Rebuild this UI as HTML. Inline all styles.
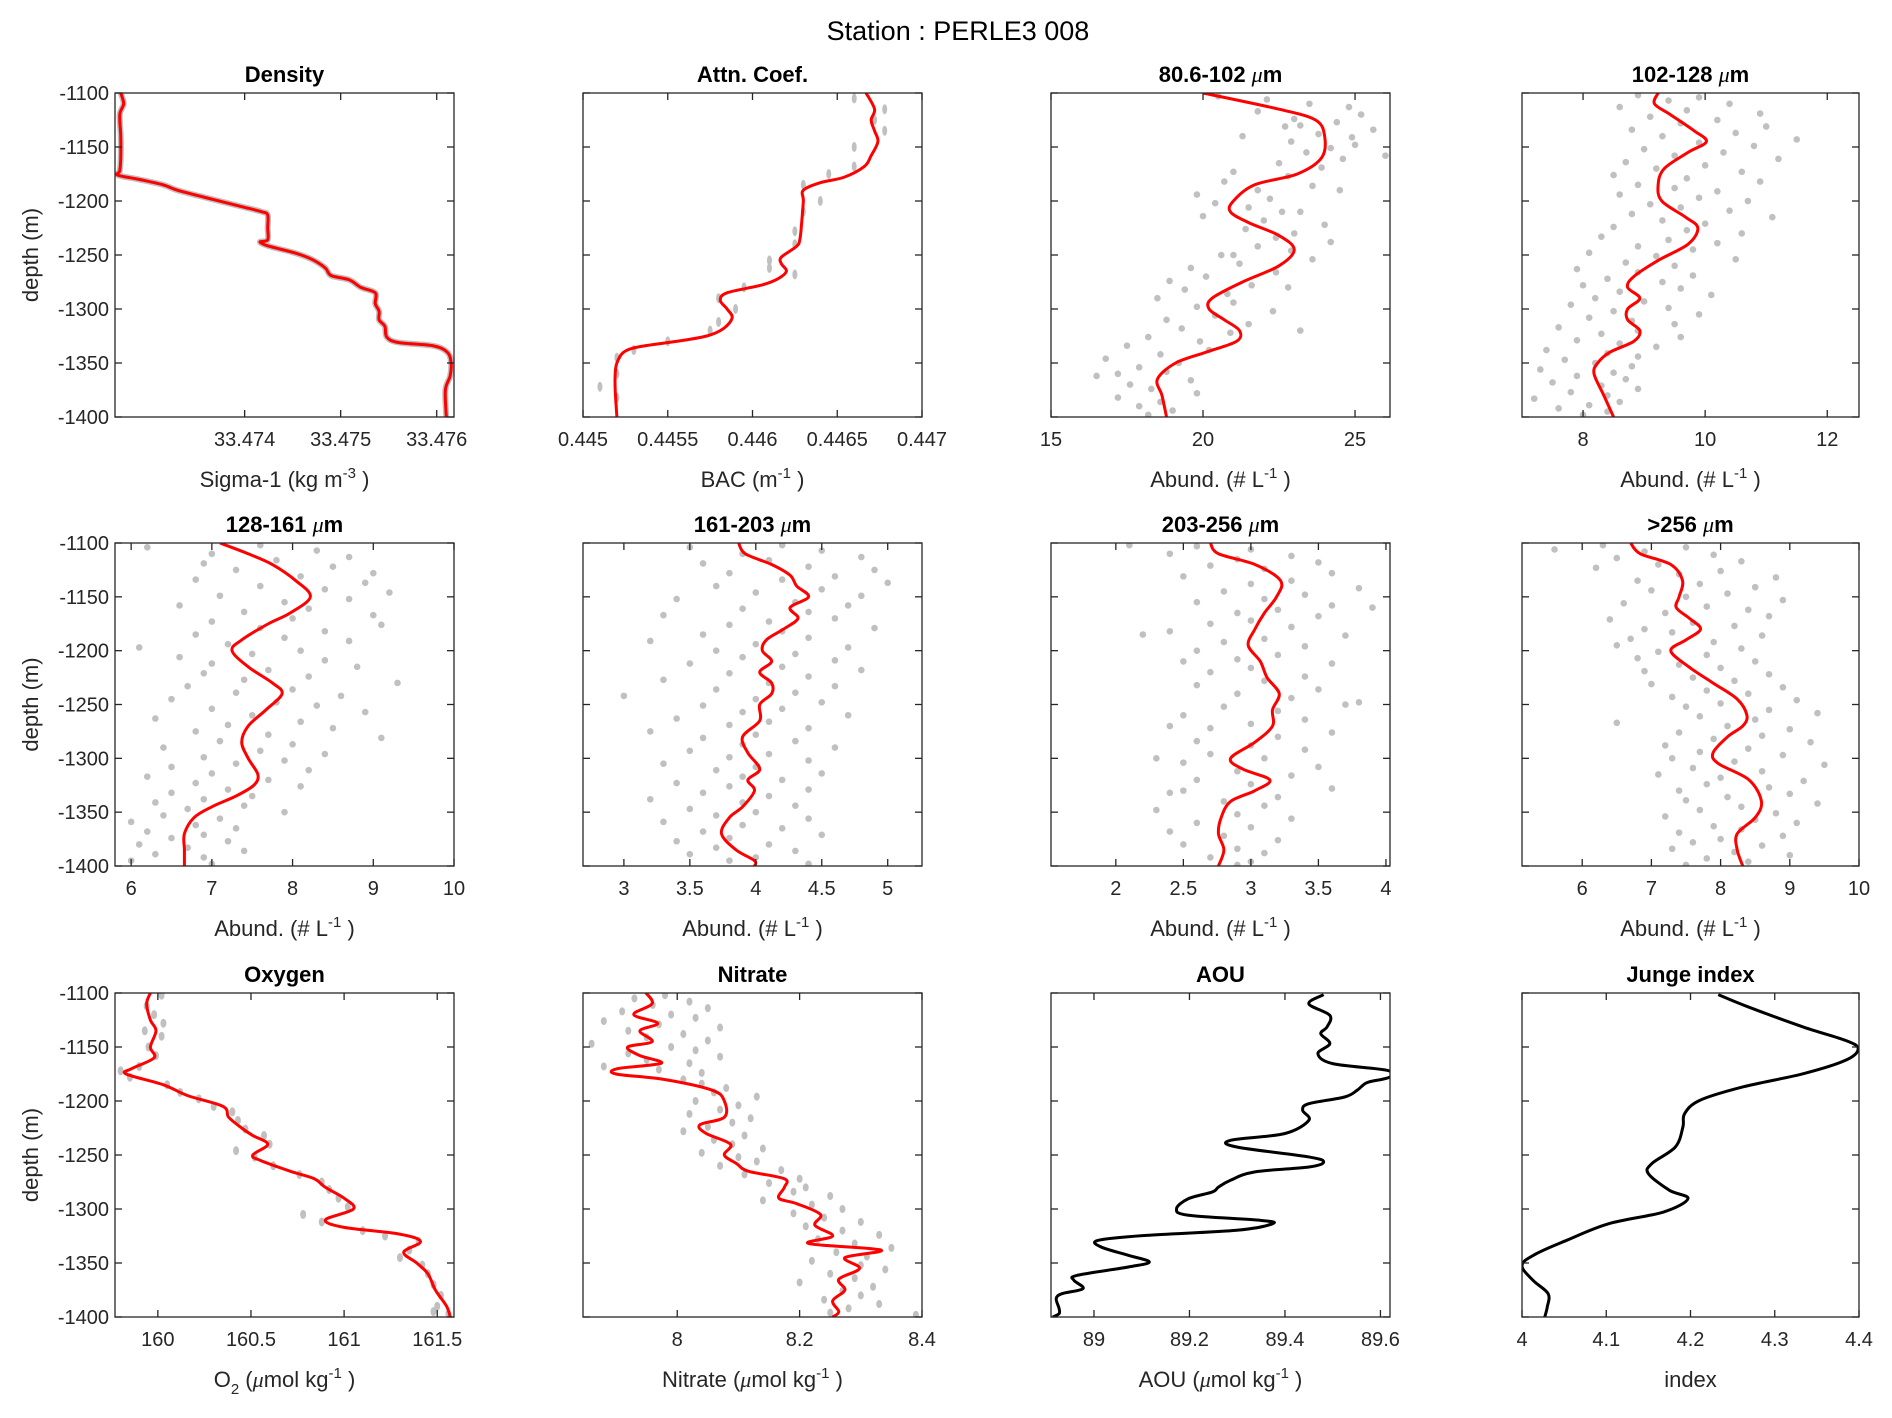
<!DOCTYPE html>
<html><head><meta charset="utf-8"><style>
html,body{margin:0;padding:0;background:#fff}
svg{display:block;font-family:"Liberation Sans",Arial,sans-serif}
</style></head><body>
<svg id="fig" width="1892" height="1418" viewBox="0 0 1892 1418" xmlns="http://www.w3.org/2000/svg">
<rect width="1892" height="1418" fill="#fff"/>
<text x="958" y="40" font-size="27" text-anchor="middle" fill="#000">Station : PERLE3 008</text>
</svg>
<script>
// ---------- DATA ----------
const depthTicks = [-1100,-1150,-1200,-1250,-1300,-1350,-1400];
const depthDomain = [-1100,-1400];

const densityLine = [[-1100,33.47271],[-1110,33.47274],[-1120,33.47270],[-1140,33.47271],[-1160,33.47271],[-1172,33.47270],[-1176,33.47268],[-1180,33.47290],[-1185,33.47315],[-1190,33.47330],[-1197,33.47360],[-1205,33.47396],[-1210,33.47418],[-1213,33.47424],[-1225,33.47424],[-1236,33.47424],[-1238,33.47416],[-1242,33.47426],[-1248,33.47452],[-1254,33.47470],[-1262,33.47484],[-1269,33.47490],[-1273,33.47509],[-1280,33.47521],[-1285,33.47536],[-1295,33.47536],[-1302,33.47540],[-1310,33.47540],[-1316,33.47546],[-1326,33.47548],[-1331,33.47560],[-1334,33.47596],[-1340,33.47611],[-1350,33.47615],[-1362,33.47614],[-1375,33.47609],[-1400,33.47610]];
const attnLine = [[-1100,0.44667],[-1115,0.44672],[-1125,0.44670],[-1135,0.44672],[-1145,0.44674],[-1158,0.44670],[-1168,0.44666],[-1178,0.44654],[-1183,0.44640],[-1190,0.44630],[-1200,0.44630],[-1220,0.44629],[-1235,0.44628],[-1242,0.44626],[-1252,0.44617],[-1258,0.44617],[-1265,0.44620],[-1272,0.44615],[-1278,0.44605],[-1285,0.44585],[-1292,0.44581],[-1300,0.44585],[-1308,0.44588],[-1318,0.44583],[-1325,0.44573],[-1330,0.44555],[-1335,0.44533],[-1340,0.44524],[-1350,0.44520],[-1360,0.44519],[-1375,0.44519],[-1400,0.44520]];
const attnDots = [[-1105,0.44660],[-1115,0.44678],[-1125,0.44672],[-1135,0.44678],[-1150,0.44660],[-1168,0.44660],[-1175,0.44645],[-1185,0.44630],[-1200,0.44640],[-1210,0.44630],[-1228,0.44625],[-1240,0.44625],[-1255,0.44610],[-1262,0.44610],[-1268,0.44625],[-1280,0.44595],[-1290,0.44580],[-1300,0.44590],[-1312,0.44580],[-1320,0.44575],[-1330,0.44550],[-1338,0.44530],[-1345,0.44520],[-1360,0.44520],[-1372,0.44510],[-1382,0.44520]];

const a80Line = [[-1100,20.0],[-1115,22.5],[-1125,23.7],[-1140,24.0],[-1160,23.9],[-1175,23.1],[-1185,21.7],[-1200,21.0],[-1210,20.9],[-1220,21.5],[-1232,22.5],[-1245,23.0],[-1260,22.5],[-1275,21.3],[-1290,20.3],[-1300,20.2],[-1310,20.7],[-1320,21.2],[-1330,21.1],[-1340,20.1],[-1350,19.1],[-1365,18.5],[-1380,18.65],[-1400,18.8]];
const a80Dots = [[-1103,20.5],[-1106,22.1],[-1110,23.5],[-1113,24.8],[-1117,21.8],[-1120,25.2],[-1124,23.0],[-1127,24.4],[-1131,22.7],[-1134,25.6],[-1138,23.8],[-1141,24.9],[-1145,22.9],[-1148,25.0],[-1151,24.2],[-1155,23.4],[-1158,26.0],[-1161,24.6],[-1165,22.5],[-1169,23.9],[-1173,21.0],[-1177,22.8],[-1182,20.7],[-1186,23.6],[-1190,21.8],[-1194,19.8],[-1198,22.2],[-1202,20.4],[-1206,21.5],[-1210,23.2],[-1214,20.0],[-1218,22.0],[-1222,24.0],[-1226,21.4],[-1230,23.0],[-1234,22.4],[-1238,24.2],[-1242,21.8],[-1246,22.9],[-1250,20.6],[-1254,23.6],[-1258,21.2],[-1262,19.6],[-1266,22.4],[-1270,20.1],[-1274,18.9],[-1278,21.6],[-1282,19.4],[-1286,20.8],[-1290,18.5],[-1294,21.0],[-1298,19.8],[-1302,22.3],[-1306,20.4],[-1310,18.8],[-1314,21.5],[-1318,19.3],[-1322,20.9],[-1326,18.2],[-1330,19.9],[-1334,17.5],[-1338,20.2],[-1342,18.6],[-1346,16.8],[-1350,19.2],[-1354,17.9],[-1358,18.8],[-1362,16.5],[-1366,19.6],[-1370,17.6],[-1374,18.3],[-1378,19.8],[-1382,17.2],[-1386,18.6],[-1390,17.9],[-1394,19.0],[-1398,18.2],[-1140,21.3],[-1210,22.6],[-1280,22.8],[-1320,23.2],[-1360,17.2],[-1250,21.0],[-1190,24.5],[-1130,23.2]];

const a102Line = [[-1100,9.23],[-1110,9.17],[-1120,9.43],[-1135,9.82],[-1145,10.02],[-1155,9.72],[-1170,9.33],[-1185,9.23],[-1200,9.29],[-1215,9.68],[-1225,9.88],[-1240,9.72],[-1255,9.23],[-1270,8.83],[-1280,8.73],[-1290,8.93],[-1300,8.73],[-1310,8.73],[-1320,8.93],[-1330,8.83],[-1340,8.44],[-1350,8.24],[-1360,8.18],[-1380,8.34],[-1400,8.5]];
const a102Dots = [[-1102,8.9],[-1104,9.9],[-1107,9.4],[-1110,10.4],[-1113,8.6],[-1116,9.7],[-1119,10.9],[-1122,9.1],[-1125,10.2],[-1128,9.6],[-1131,11.0],[-1134,8.8],[-1137,10.5],[-1140,9.3],[-1143,11.5],[-1146,9.9],[-1149,10.8],[-1152,9.0],[-1155,10.3],[-1158,9.5],[-1161,11.2],[-1164,8.7],[-1167,10.0],[-1170,9.2],[-1173,10.6],[-1176,8.5],[-1179,9.7],[-1182,10.9],[-1185,8.9],[-1188,9.5],[-1191,10.2],[-1194,8.6],[-1197,9.9],[-1200,10.7],[-1203,9.1],[-1206,9.6],[-1209,10.4],[-1212,8.8],[-1215,11.1],[-1218,9.3],[-1221,10.0],[-1224,8.5],[-1227,9.7],[-1230,10.6],[-1233,8.3],[-1236,9.4],[-1239,10.2],[-1242,8.9],[-1245,9.8],[-1248,8.1],[-1251,9.2],[-1254,10.5],[-1257,8.7],[-1260,9.5],[-1263,7.9],[-1266,8.9],[-1269,9.8],[-1272,8.4],[-1275,9.3],[-1278,8.0],[-1281,9.6],[-1284,8.6],[-1287,10.1],[-1290,8.2],[-1293,9.0],[-1296,7.8],[-1299,9.4],[-1302,8.5],[-1305,9.9],[-1308,8.1],[-1311,8.8],[-1314,9.5],[-1317,7.6],[-1320,8.9],[-1323,8.3],[-1326,9.6],[-1329,7.9],[-1332,8.6],[-1335,9.2],[-1338,7.4],[-1341,8.4],[-1344,8.9],[-1347,7.7],[-1350,8.2],[-1353,8.8],[-1356,7.3],[-1359,8.5],[-1362,7.9],[-1365,8.7],[-1368,7.5],[-1371,8.3],[-1374,8.9],[-1377,7.8],[-1380,8.4],[-1383,7.2],[-1386,8.6],[-1389,8.1],[-1392,7.6],[-1395,8.4],[-1398,8.0]];

const a128Line = [[-1100,7.1],[-1110,7.45],[-1120,7.75],[-1135,8.04],[-1150,8.22],[-1165,7.97],[-1175,7.7],[-1190,7.37],[-1200,7.25],[-1215,7.45],[-1230,7.75],[-1240,7.87],[-1255,7.67],[-1270,7.45],[-1285,7.37],[-1300,7.45],[-1315,7.57],[-1325,7.52],[-1335,7.3],[-1345,7.0],[-1355,6.78],[-1370,6.66],[-1385,6.66],[-1400,6.66]];
const a128Dots = [[-1102,7.6],[-1104,6.2],[-1107,8.3],[-1110,7.0],[-1113,8.7],[-1116,7.8],[-1119,6.9],[-1122,8.5],[-1125,7.3],[-1128,9.0],[-1131,8.1],[-1134,6.8],[-1137,8.9],[-1140,7.6],[-1143,8.4],[-1146,9.2],[-1149,7.1],[-1152,8.7],[-1155,7.9],[-1158,6.6],[-1161,8.2],[-1164,7.4],[-1167,9.0],[-1170,8.0],[-1173,7.0],[-1176,9.1],[-1179,7.6],[-1182,8.4],[-1185,6.8],[-1188,7.9],[-1191,8.7],[-1194,7.2],[-1197,6.1],[-1200,8.1],[-1203,7.5],[-1206,6.6],[-1209,8.4],[-1212,7.0],[-1215,8.8],[-1218,7.7],[-1221,6.9],[-1224,8.2],[-1227,7.4],[-1230,9.3],[-1233,6.7],[-1236,8.0],[-1239,7.3],[-1242,8.6],[-1245,6.5],[-1248,7.8],[-1251,8.3],[-1254,7.0],[-1257,8.9],[-1260,7.5],[-1263,6.3],[-1266,8.1],[-1269,7.2],[-1272,8.5],[-1275,6.8],[-1278,7.7],[-1281,9.1],[-1284,7.1],[-1287,8.0],[-1290,6.4],[-1293,7.6],[-1296,8.4],[-1299,6.9],[-1302,7.9],[-1305,7.3],[-1308,6.5],[-1311,8.2],[-1314,7.0],[-1317,6.2],[-1320,7.7],[-1323,6.8],[-1326,8.1],[-1329,7.2],[-1332,6.5],[-1335,7.5],[-1338,6.9],[-1341,6.3],[-1344,7.4],[-1347,6.7],[-1350,7.9],[-1353,6.4],[-1356,7.1],[-1359,6.0],[-1362,6.8],[-1365,7.3],[-1368,6.2],[-1371,6.9],[-1374,6.5],[-1377,7.2],[-1380,6.1],[-1383,6.7],[-1386,7.4],[-1389,6.3],[-1392,6.9],[-1395,6.0],[-1398,7.0]];

const a161Line = [[-1100,3.87],[-1110,3.92],[-1120,4.12],[-1130,4.26],[-1140,4.31],[-1150,4.40],[-1160,4.26],[-1170,4.32],[-1180,4.21],[-1190,4.08],[-1200,4.05],[-1210,4.12],[-1220,4.03],[-1230,4.12],[-1240,4.12],[-1250,4.03],[-1265,4.03],[-1280,3.90],[-1295,3.94],[-1310,4.03],[-1320,3.94],[-1330,3.99],[-1345,3.90],[-1355,3.80],[-1370,3.74],[-1385,3.85],[-1395,3.99],[-1400,3.99]];
const a161Dots = [[-1102,4.2],[-1104,3.5],[-1107,4.5],[-1110,3.9],[-1113,4.8],[-1116,4.1],[-1119,3.6],[-1122,4.4],[-1125,4.9],[-1128,3.8],[-1131,4.6],[-1134,4.2],[-1137,5.0],[-1140,3.7],[-1143,4.5],[-1146,4.0],[-1149,4.8],[-1152,3.4],[-1155,4.3],[-1158,4.7],[-1161,3.9],[-1164,4.4],[-1167,3.3],[-1170,4.6],[-1173,4.1],[-1176,3.8],[-1179,4.9],[-1182,4.2],[-1185,3.6],[-1188,4.4],[-1191,3.2],[-1194,4.0],[-1197,4.7],[-1200,3.7],[-1203,4.3],[-1206,3.9],[-1209,4.6],[-1212,3.5],[-1215,4.2],[-1218,4.8],[-1221,3.8],[-1224,4.4],[-1227,3.3],[-1230,4.1],[-1233,4.6],[-1236,3.7],[-1239,4.3],[-1242,3.0],[-1245,4.0],[-1248,4.5],[-1251,3.6],[-1254,4.2],[-1257,3.9],[-1260,4.7],[-1263,3.4],[-1266,4.1],[-1269,3.8],[-1272,4.4],[-1275,3.2],[-1278,4.0],[-1281,3.6],[-1284,4.3],[-1287,3.9],[-1290,4.6],[-1293,3.5],[-1296,4.1],[-1299,3.8],[-1302,4.4],[-1305,3.3],[-1308,4.0],[-1311,3.7],[-1314,4.5],[-1317,3.9],[-1320,4.2],[-1323,3.4],[-1326,3.8],[-1329,4.4],[-1332,3.6],[-1335,4.1],[-1338,3.2],[-1341,3.9],[-1344,4.3],[-1347,3.5],[-1350,4.0],[-1353,3.7],[-1356,4.4],[-1359,3.3],[-1362,3.9],[-1365,4.2],[-1368,3.6],[-1371,4.5],[-1374,3.8],[-1377,3.4],[-1380,4.1],[-1383,3.7],[-1386,4.3],[-1389,3.5],[-1392,4.0],[-1395,3.8],[-1398,4.4]];

const a203Line = [[-1100,2.70],[-1110,2.76],[-1120,3.03],[-1135,3.22],[-1150,3.19],[-1165,3.10],[-1180,3.03],[-1195,2.98],[-1210,3.07],[-1225,3.12],[-1240,3.21],[-1255,3.16],[-1270,3.16],[-1285,3.03],[-1300,2.85],[-1310,2.94],[-1320,3.14],[-1330,3.03],[-1340,2.85],[-1355,2.78],[-1370,2.76],[-1385,2.80],[-1400,2.76]];
const a203Dots = [[-1102,2.1],[-1103,2.6],[-1106,3.0],[-1110,2.4],[-1112,3.3],[-1115,2.9],[-1118,3.5],[-1121,2.7],[-1124,3.1],[-1128,3.6],[-1131,2.5],[-1135,3.3],[-1138,3.0],[-1142,3.8],[-1145,2.8],[-1148,3.4],[-1152,3.1],[-1155,2.6],[-1158,3.6],[-1162,3.2],[-1165,2.9],[-1168,3.5],[-1172,3.0],[-1175,2.7],[-1178,3.3],[-1182,2.4],[-1186,3.7],[-1189,3.1],[-1192,2.8],[-1196,3.4],[-1200,2.6],[-1204,3.2],[-1208,2.9],[-1212,3.6],[-1216,3.0],[-1220,2.7],[-1224,3.4],[-1228,3.1],[-1232,2.6],[-1236,3.5],[-1240,2.9],[-1244,3.3],[-1248,3.8],[-1252,2.8],[-1256,3.2],[-1260,2.5],[-1264,3.4],[-1268,3.0],[-1272,2.7],[-1276,3.6],[-1280,3.2],[-1284,2.6],[-1288,3.0],[-1292,3.4],[-1296,2.7],[-1300,3.1],[-1304,2.5],[-1308,3.5],[-1312,2.9],[-1316,3.3],[-1320,2.6],[-1324,3.0],[-1328,3.6],[-1332,2.4],[-1336,3.2],[-1340,2.8],[-1344,3.1],[-1348,2.3],[-1352,2.9],[-1356,3.3],[-1360,2.6],[-1364,3.0],[-1368,2.4],[-1372,2.8],[-1376,3.2],[-1380,2.5],[-1384,2.9],[-1388,3.1],[-1392,2.7],[-1396,3.0],[-1399,2.9],[-1185,2.2],[-1160,3.9],[-1300,2.3],[-1250,3.7],[-1330,2.5],[-1210,2.5],[-1270,2.4]];

const a256Line = [[-1100,6.70],[-1110,6.84],[-1120,7.28],[-1135,7.45],[-1150,7.40],[-1160,7.36],[-1170,7.55],[-1180,7.71],[-1190,7.50],[-1200,7.28],[-1215,7.54],[-1230,7.89],[-1245,8.24],[-1260,8.38],[-1270,8.32],[-1280,8.10],[-1295,7.89],[-1305,7.97],[-1320,8.41],[-1340,8.59],[-1355,8.50],[-1370,8.24],[-1385,8.24],[-1400,8.32]];
const a256Dots = [[-1102,6.3],[-1104,7.5],[-1106,5.6],[-1108,6.9],[-1111,7.9],[-1114,6.5],[-1117,8.3],[-1120,7.1],[-1123,6.2],[-1126,8.0],[-1129,7.4],[-1132,8.8],[-1135,6.8],[-1138,7.7],[-1141,8.5],[-1144,7.0],[-1147,8.1],[-1150,7.5],[-1153,8.9],[-1156,6.6],[-1159,7.8],[-1162,8.4],[-1165,7.2],[-1168,8.7],[-1171,6.4],[-1174,7.6],[-1177,8.2],[-1180,6.9],[-1183,7.3],[-1186,8.6],[-1189,6.7],[-1192,7.9],[-1195,6.5],[-1198,8.3],[-1201,7.1],[-1204,7.8],[-1207,6.8],[-1210,8.5],[-1213,7.4],[-1216,8.0],[-1219,6.9],[-1222,8.7],[-1225,7.6],[-1228,8.2],[-1231,7.0],[-1234,8.9],[-1237,7.8],[-1240,8.4],[-1243,7.3],[-1246,9.1],[-1249,8.0],[-1252,7.5],[-1255,8.7],[-1258,9.4],[-1261,7.7],[-1264,8.5],[-1267,6.5],[-1270,8.1],[-1273,9.0],[-1276,7.4],[-1279,8.6],[-1282,7.9],[-1285,9.3],[-1288,7.2],[-1291,8.4],[-1294,7.7],[-1297,8.9],[-1300,7.3],[-1303,8.2],[-1306,9.5],[-1309,7.6],[-1312,8.6],[-1315,7.1],[-1318,8.0],[-1321,9.2],[-1324,7.8],[-1327,8.7],[-1330,7.4],[-1333,9.0],[-1336,8.1],[-1339,7.5],[-1342,9.4],[-1345,8.3],[-1348,7.7],[-1351,8.8],[-1354,7.2],[-1357,8.5],[-1360,9.1],[-1363,7.9],[-1366,8.3],[-1369,7.4],[-1372,8.9],[-1375,8.0],[-1378,7.6],[-1381,8.6],[-1384,7.3],[-1387,8.2],[-1390,9.0],[-1393,7.8],[-1396,8.4],[-1399,7.5]];

const o2Line = [[-1100,159.96],[-1110,159.94],[-1125,159.96],[-1135,159.99],[-1150,159.96],[-1160,159.98],[-1170,159.86],[-1175,159.83],[-1185,160.03],[-1195,160.16],[-1205,160.35],[-1215,160.38],[-1225,160.45],[-1232,160.51],[-1240,160.59],[-1250,160.51],[-1255,160.55],[-1265,160.71],[-1272,160.84],[-1280,160.90],[-1290,161.00],[-1300,161.05],[-1310,160.90],[-1317,161.00],[-1323,161.29],[-1330,161.41],[-1340,161.32],[-1350,161.39],[-1360,161.45],[-1375,161.49],[-1390,161.55],[-1400,161.57]];
const o2Dots = [[-1102,160.02],[-1112,159.94],[-1120,159.98],[-1128,160.03],[-1135,159.93],[-1140,160.02],[-1150,159.95],[-1158,159.99],[-1168,159.90],[-1172,159.80],[-1178,159.85],[-1185,160.05],[-1192,160.12],[-1198,160.22],[-1205,160.30],[-1210,160.40],[-1218,160.43],[-1226,160.47],[-1232,160.57],[-1240,160.60],[-1246,160.42],[-1252,160.52],[-1260,160.62],[-1268,160.76],[-1275,160.88],[-1282,160.92],[-1290,160.97],[-1298,161.02],[-1305,160.78],[-1312,160.88],[-1320,161.10],[-1325,161.22],[-1330,161.40],[-1338,161.35],[-1345,161.30],[-1352,161.42],[-1360,161.45],[-1370,161.48],[-1380,161.52],[-1390,161.50],[-1397,161.56],[-1395,161.48]];

const no3Line = [[-1100,7.949],[-1110,7.959],[-1120,7.929],[-1128,7.968],[-1135,7.939],[-1145,7.959],[-1150,7.919],[-1158,7.939],[-1165,7.974],[-1170,7.903],[-1175,7.900],[-1180,7.978],[-1190,8.057],[-1200,8.077],[-1215,8.077],[-1222,8.037],[-1230,8.047],[-1240,8.087],[-1250,8.077],[-1258,8.097],[-1265,8.116],[-1272,8.175],[-1280,8.175],[-1290,8.166],[-1295,8.195],[-1305,8.234],[-1315,8.225],[-1325,8.254],[-1332,8.215],[-1338,8.333],[-1345,8.274],[-1355,8.298],[-1365,8.264],[-1375,8.274],[-1385,8.254],[-1395,8.264],[-1400,8.254]];
const no3Dots = [[-1102,7.98],[-1105,7.93],[-1108,8.02],[-1111,7.96],[-1114,8.05],[-1117,7.91],[-1120,7.99],[-1123,8.03],[-1126,7.88],[-1129,7.97],[-1132,8.07],[-1135,7.92],[-1138,8.01],[-1141,7.95],[-1144,8.05],[-1147,7.86],[-1150,7.99],[-1153,8.03],[-1156,7.92],[-1159,8.07],[-1162,7.95],[-1165,8.02],[-1168,7.88],[-1171,7.97],[-1174,8.04],[-1180,8.01],[-1184,8.04],[-1188,8.08],[-1192,8.06],[-1196,8.13],[-1200,8.03],[-1204,8.10],[-1208,8.07],[-1212,8.02],[-1216,8.12],[-1220,8.09],[-1224,8.05],[-1228,8.01],[-1232,8.11],[-1236,8.06],[-1240,8.09],[-1244,8.14],[-1248,8.04],[-1252,8.10],[-1256,8.13],[-1260,8.07],[-1264,8.17],[-1268,8.11],[-1272,8.20],[-1276,8.15],[-1280,8.21],[-1284,8.19],[-1288,8.25],[-1292,8.14],[-1296,8.22],[-1300,8.27],[-1304,8.19],[-1308,8.24],[-1312,8.30],[-1316,8.21],[-1320,8.27],[-1324,8.33],[-1328,8.23],[-1332,8.29],[-1336,8.35],[-1340,8.26],[-1344,8.31],[-1348,8.22],[-1352,8.30],[-1356,8.34],[-1360,8.25],[-1364,8.29],[-1368,8.20],[-1372,8.32],[-1376,8.27],[-1380,8.30],[-1384,8.24],[-1388,8.33],[-1392,8.28],[-1396,8.25],[-1398,8.39]];

const aouLine = [[-1101.5,89.481],[-1110,89.450],[-1120.7,89.494],[-1131.5,89.488],[-1137.7,89.475],[-1146.9,89.494],[-1156.2,89.469],[-1165.4,89.500],[-1171.6,89.614],[-1177.8,89.620],[-1182.4,89.576],[-1185.5,89.563],[-1190.1,89.551],[-1196.3,89.525],[-1202.5,89.450],[-1208.6,89.437],[-1217.9,89.450],[-1230.2,89.399],[-1236.4,89.286],[-1242.6,89.299],[-1251.8,89.450],[-1256.5,89.481],[-1261.1,89.450],[-1265.7,89.336],[-1273.4,89.286],[-1279.6,89.261],[-1284.2,89.248],[-1290.4,89.198],[-1299.7,89.173],[-1305.8,89.198],[-1310.5,89.349],[-1313.6,89.374],[-1319.7,89.299],[-1324.4,89.110],[-1329,89.009],[-1335.2,89.015],[-1342.9,89.072],[-1349.1,89.116],[-1353.7,89.072],[-1361.4,88.965],[-1366,88.958],[-1373.7,88.977],[-1378.4,88.933],[-1383,88.921],[-1392.2,88.927],[-1396.9,88.927],[-1400,88.914]];
const jungeLine = [[-1101.5,4.233],[-1113,4.269],[-1131.5,4.334],[-1143.9,4.384],[-1151.6,4.399],[-1162.3,4.384],[-1174.7,4.334],[-1187,4.262],[-1199.4,4.211],[-1211.7,4.193],[-1224,4.191],[-1242.6,4.182],[-1258,4.154],[-1267.3,4.150],[-1282.7,4.175],[-1290.4,4.197],[-1302.8,4.168],[-1313.6,4.103],[-1329,4.053],[-1341.4,4.017],[-1352.1,4.000],[-1366,4.013],[-1378.4,4.031],[-1390.7,4.030],[-1400,4.027]];

// ---------- LAYOUT ----------
const colX = [[115,454],[583,922],[1051,1390],[1522,1859]];
const rowY = [[93,417],[543,866],[993,1317]];
const NS = 'http://www.w3.org/2000/svg';
const svg = document.getElementById('fig');

function mk(tag, attrs, parent){
  const e = document.createElementNS(NS, tag);
  for (const k in attrs) e.setAttribute(k, attrs[k]);
  (parent||svg).appendChild(e);
  return e;
}
function smoothPath(pts){
  if (pts.length<2) return '';
  let d = 'M'+pts[0][0].toFixed(2)+','+pts[0][1].toFixed(2);
  for (let i=0;i<pts.length-1;i++){
    const p0=pts[Math.max(i-1,0)], p1=pts[i], p2=pts[i+1], p3=pts[Math.min(i+2,pts.length-1)];
    const c1=[p1[0]+(p2[0]-p0[0])/6, p1[1]+(p2[1]-p0[1])/6];
    const c2=[p2[0]-(p3[0]-p1[0])/6, p2[1]-(p3[1]-p1[1])/6];
    d+=' C'+c1[0].toFixed(2)+','+c1[1].toFixed(2)+' '+c2[0].toFixed(2)+','+c2[1].toFixed(2)+' '+p2[0].toFixed(2)+','+p2[1].toFixed(2);
  }
  return d;
}

function panel(cfg){
  const [x0,x1] = colX[cfg.col], [y0,y1] = rowY[cfg.row];
  const g = mk('g',{});
  
  
  const xs = v => x0 + (v-cfg.dom[0])/(cfg.dom[1]-cfg.dom[0])*(x1-x0);
  const ys = d => y0 + (d-depthDomain[0])/(depthDomain[1]-depthDomain[0])*(y1-y0);
  const clipId = 'clip'+cfg.name;
  const cp = mk('clipPath',{id:clipId},g);
  mk('rect',{x:x0,y:y0,width:x1-x0,height:y1-y0},cp);
  if (cfg.dots){
    const dg = mk('g',{'clip-path':'url(#'+clipId+')'},g);
    
    
    cfg.dots.forEach(p=>{
      const c = mk('ellipse',{cx:xs(p[1]).toFixed(2),cy:ys(p[0]).toFixed(2),rx:cfg.rx||3.3,ry:cfg.ry||3.3,fill:'#c0c0c0'},dg);
      
      
    });
  }
  const pts = cfg.line.map(p=>[xs(p[1]), ys(p[0])]);
  const d = smoothPath(pts);
  if (cfg.halo){
    const h = mk('path',{d:d,fill:'none',stroke:'#c0c0c0','stroke-width':6,'stroke-linejoin':'round','clip-path':'url(#'+clipId+')'},g);
    
    
  }
  const ln = mk('path',{d:d,fill:'none',stroke:cfg.color||'#ff0000','stroke-width':3,'stroke-linejoin':'round','clip-path':'url(#'+clipId+')'},g);
  
  
  const bx = mk('rect',{x:x0,y:y0,width:x1-x0,height:y1-y0,fill:'none',stroke:'#262626','stroke-width':1.3},g);
  
  
  const tl = 7;
  cfg.ticks.forEach((t,i)=>{
    const x = xs(t);
    mk('line',{x1:x,x2:x,y1:y1,y2:y1-tl,stroke:'#262626','stroke-width':1.3},g);
    mk('line',{x1:x,x2:x,y1:y0,y2:y0+tl,stroke:'#262626','stroke-width':1.3},g);
    const tx = mk('text',{x:x,y:y1+29,'font-size':20,'text-anchor':'middle',fill:'#262626'},g);
    tx.textContent = cfg.tickLabels[i];
    
    
  });
  depthTicks.forEach(dd=>{
    const y = ys(dd);
    mk('line',{x1:x0,x2:x0+tl,y1:y,y2:y,stroke:'#262626','stroke-width':1.3},g);
    mk('line',{x1:x1,x2:x1-tl,y1:y,y2:y,stroke:'#262626','stroke-width':1.3},g);
    if (cfg.col===0){
      const ty = mk('text',{x:x0-6,y:y+7,'font-size':20,'text-anchor':'end',fill:'#262626'},g);
      ty.textContent = String(dd);
      
      
    }
  });
  if (cfg.col===0){
    const yt = mk('text',{x:0,y:0,'font-size':22,'text-anchor':'middle',fill:'#262626',transform:'translate(38,'+((y0+y1)/2)+') rotate(-90)'},g);
    yt.textContent = 'depth (m)';
    
    
  }
  const tt = mk('text',{x:(x0+x1)/2,y:y0-11,'font-size':22,'font-weight':'bold','text-anchor':'middle',fill:'#000'},g);
  tt.innerHTML = cfg.title;
  
  
  const xl = mk('text',{x:(x0+x1)/2,y:y1+70,'font-size':22,'text-anchor':'middle',fill:'#262626'},g);
  xl.innerHTML = cfg.xlabel;
  
  
}

const mu = '<tspan font-family="Liberation Serif,serif" font-style="italic">μ</tspan>';
const sup = s => '<tspan dy="-9" font-size="15">'+s+'</tspan><tspan dy="9"> </tspan>';
const abund = 'Abund. (# L'+sup('-1')+')';
const muT = '<tspan font-family="Liberation Serif,serif" font-style="italic" font-weight="normal">μ</tspan>m';

panel({name:'density',col:0,row:0,dom:[33.47265,33.47618],ticks:[33.474,33.475,33.476],tickLabels:['33.474','33.475','33.476'],line:densityLine,dots:null,halo:true,title:'Density',xlabel:'Sigma-1 (kg m'+sup('-3')+')'});
panel({name:'attn',col:1,row:0,dom:[0.445,0.447],ticks:[0.445,0.4455,0.446,0.4465,0.447],tickLabels:['0.445','0.4455','0.446','0.4465','0.447'],line:attnLine,dots:attnDots,rx:2.5,ry:5,title:'Attn. Coef.',xlabel:'BAC (m'+sup('-1')+')'});
panel({name:'size-80-102',col:2,row:0,dom:[15,26.15],ticks:[15,20,25],tickLabels:['15','20','25'],line:a80Line,dots:a80Dots,title:'80.6-102  '+muT,xlabel:abund});
panel({name:'size-102-128',col:3,row:0,dom:[7,12.52],ticks:[8,10,12],tickLabels:['8','10','12'],line:a102Line,dots:a102Dots,title:'102-128  '+muT,xlabel:abund});
panel({name:'size-128-161',col:0,row:1,dom:[5.8,10],ticks:[6,7,8,9,10],tickLabels:['6','7','8','9','10'],line:a128Line,dots:a128Dots,title:'128-161  '+muT,xlabel:abund});
panel({name:'size-161-203',col:1,row:1,dom:[2.69,5.26],ticks:[3,3.5,4,4.5,5],tickLabels:['3','3.5','4','4.5','5'],line:a161Line,dots:a161Dots,title:'161-203  '+muT,xlabel:abund});
panel({name:'size-203-256',col:2,row:1,dom:[1.52,4.03],ticks:[2,2.5,3,3.5,4],tickLabels:['2','2.5','3','3.5','4'],line:a203Line,dots:a203Dots,title:'203-256  '+muT,xlabel:abund});
panel({name:'size-gt-256',col:3,row:1,dom:[5.13,10],ticks:[6,7,8,9,10],tickLabels:['6','7','8','9','10'],line:a256Line,dots:a256Dots,title:'&gt;256  '+muT,xlabel:abund});
panel({name:'oxygen',col:0,row:2,dom:[159.77,161.59],ticks:[160,160.5,161,161.5],tickLabels:['160','160.5','161','161.5'],line:o2Line,dots:o2Dots,rx:3,ry:4.5,title:'Oxygen',xlabel:'O<tspan dy="7" font-size="15">2</tspan><tspan dy="-7"> (</tspan>'+mu+'mol kg'+sup('-1')+')'});
panel({name:'nitrate',col:1,row:2,dom:[7.846,8.4],ticks:[8,8.2,8.4],tickLabels:['8','8.2','8.4'],line:no3Line,dots:no3Dots,rx:3,ry:4,title:'Nitrate',xlabel:'Nitrate ('+mu+'mol kg'+sup('-1')+')'});
panel({name:'aou',col:2,row:2,dom:[88.91,89.62],ticks:[89,89.2,89.4,89.6],tickLabels:['89','89.2','89.4','89.6'],line:aouLine,dots:null,color:'#000',title:'AOU',xlabel:'AOU ('+mu+'mol kg'+sup('-1')+')'});
panel({name:'junge',col:3,row:2,dom:[4,4.4],ticks:[4,4.1,4.2,4.3,4.4],tickLabels:['4','4.1','4.2','4.3','4.4'],line:jungeLine,dots:null,color:'#000',title:'Junge index',xlabel:'index'});
</script>
</body></html>
